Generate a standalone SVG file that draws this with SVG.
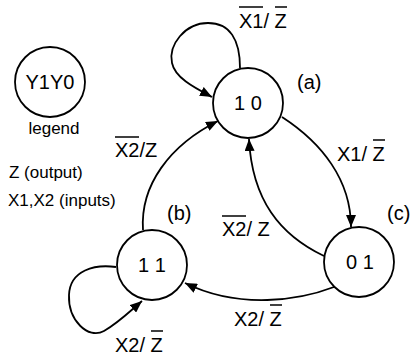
<svg xmlns="http://www.w3.org/2000/svg" width="414" height="358" viewBox="0 0 414 358">
<defs>
<style>
.st{fill:#fff;stroke:#000;stroke-width:1.8}
.e{fill:none;stroke:#000;stroke-width:1.8}
.t{font-family:"Liberation Sans",Arial,Helvetica,sans-serif;font-size:20px;fill:#000}
.s{font-family:"Liberation Sans",Arial,Helvetica,sans-serif;font-size:17px;fill:#000}
.bar{stroke:#000;stroke-width:1.5}
</style>
<marker id="ah" viewBox="0 0 12 10" refX="12" refY="5" markerWidth="12" markerHeight="10" markerUnits="userSpaceOnUse" orient="auto">
<path d="M0,0 L12,5 L0,10 Z" fill="#000"/>
</marker>
</defs>
<rect width="414" height="358" fill="#fff"/>

<g id="connectors">
<path class="e" marker-end="url(#ah)" d="M240,68 C240,40 230,23 208,23 C185,23 168,45 172,63 C175,78 195,88 212,97"/>
<path class="e" marker-end="url(#ah)" d="M282,117 C322,143 351,180 351,227"/>
<path class="e" marker-end="url(#ah)" d="M324,256 C280,235 252,200 249,139"/>
<path class="e" marker-end="url(#ah)" d="M334,287 C300,300 240,310 185,283"/>
<path class="e" marker-end="url(#ah)" d="M143,230 C140,185 170,145 218,121"/>
<path class="e" marker-end="url(#ah)" d="M116,267 C95,264 70,270 69,295 C68,320 88,340 104,331 C118,323 128,313 142,301"/>
</g>

<g id="edge-labels">
<g id="lbl-a-self">
<text class="t" x="239" y="28">X1/ Z</text>
<line class="bar" x1="239" y1="7" x2="263" y2="7"/>
<line class="bar" x1="275" y1="7" x2="287" y2="7"/>
</g>
<g id="lbl-a-c">
<text class="t" x="337" y="161">X1/ Z</text>
<line class="bar" x1="373" y1="140" x2="385" y2="140"/>
</g>
<g id="lbl-b-a">
<text class="t" x="115" y="157">X2/Z</text>
<line class="bar" x1="115" y1="137" x2="139" y2="137"/>
</g>
<g id="lbl-c-a">
<text class="t" x="222" y="236">X2/ Z</text>
<line class="bar" x1="222" y1="216" x2="246" y2="216"/>
</g>
<g id="lbl-c-b">
<text class="t" x="234" y="326">X2/ Z</text>
<line class="bar" x1="270" y1="305" x2="282" y2="305"/>
</g>
<g id="lbl-b-self">
<text class="t" x="115" y="352">X2/ Z</text>
<line class="bar" x1="151" y1="331" x2="163" y2="331"/>
</g>
</g>

<g id="legend">
<circle class="st" cx="50" cy="82" r="35"/>
<text class="t" x="50" y="89" text-anchor="middle">Y1Y0</text>
<text class="s" x="54" y="134" text-anchor="middle">legend</text>
<text class="s" x="9" y="178">Z (output)</text>
<text class="s" x="8" y="206">X1,X2 (inputs)</text>
</g>

<g id="node-a">
<circle class="st" cx="248" cy="103" r="35"/>
<text class="t" x="248" y="110" text-anchor="middle">1 0</text>
<text class="t" x="297" y="89">(a)</text>
</g>
<g id="node-b">
<circle class="st" cx="152" cy="265" r="35"/>
<text class="t" x="152" y="272" text-anchor="middle">1 1</text>
<text class="t" x="167" y="220">(b)</text>
</g>
<g id="node-c">
<circle class="st" cx="359" cy="262" r="35"/>
<text class="t" x="360" y="269" text-anchor="middle">0 1</text>
<text class="t" x="387" y="220">(c)</text>
</g>
</svg>
